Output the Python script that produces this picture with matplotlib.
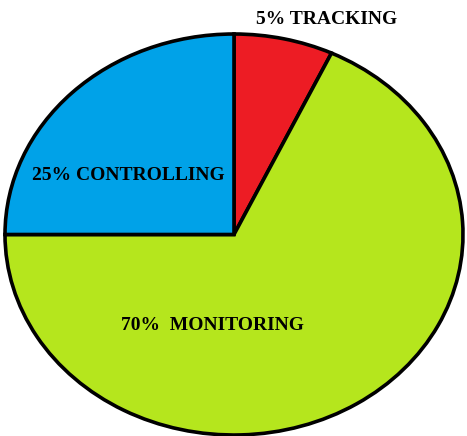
import matplotlib
matplotlib.use("Agg")
import matplotlib.pyplot as plt

# Data (clockwise from 12 o'clock)
categories = ["TRACKING", "MONITORING", "CONTROLLING"]
label_pct = [5, 70, 25]          # percentages printed in the labels
drawn_share = [7, 68, 25]        # slice sizes as drawn in the picture
colors = ["#ED1C24", "#B5E61D", "#00A2E8"]

W, H = 467, 436
fig = plt.figure(figsize=(W / 100, H / 100), dpi=100)
fig.patch.set_facecolor("white")

# elliptical pie: centre (234, 234.5) px, radii 229 x 200.5 px
cx, cy, rx, ry = 234, 234.5, 229, 200.5
ax = fig.add_axes([(cx - rx) / W, (H - cy - ry) / H, 2 * rx / W, 2 * ry / H])
wedges, _ = ax.pie(drawn_share, colors=colors, startangle=90, counterclock=False,
                   radius=1,
                   wedgeprops=dict(edgecolor="black", linewidth=2.6, joinstyle="miter"))
for w in wedges:
    w.set_clip_on(False)
ax.set_aspect("auto")
ax.set_xlim(-1, 1)
ax.set_ylim(-1, 1)
ax.axis("off")

font = dict(family="Liberation Serif", fontweight="bold", fontsize=14, color="black",
            ha="center", va="center")
texts = [f"{label_pct[0]}% {categories[0]}",
         f"{label_pct[1]}%  {categories[1]}",
         f"{label_pct[2]}% {categories[2]}"]
positions = [(327, 19), (212, 325), (128, 175)]
for t, (px, py) in zip(texts, positions):
    fig.text(px / W, 1 - py / H, t, **font)

fig.savefig("out.png", dpi=100)
